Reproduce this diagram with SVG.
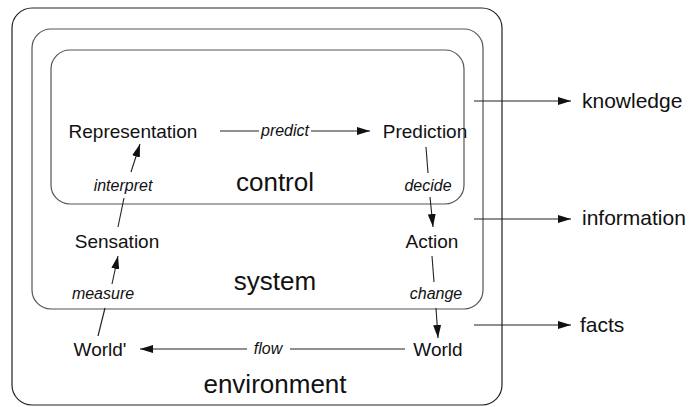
<svg xmlns="http://www.w3.org/2000/svg" width="694" height="407" viewBox="0 0 694 407">
<defs>
<marker id="ah" viewBox="0 0 13 8" refX="13" refY="4" markerWidth="13" markerHeight="8" markerUnits="userSpaceOnUse" orient="auto">
<path d="M0,0 L13,4 L0,8 Z" fill="#111"/>
</marker>
<style>
.box{fill:none;stroke:#555;stroke-width:1.2}
.outer{fill:none;stroke:#222;stroke-width:1.2}
.node{font-family:"Liberation Sans",Arial,sans-serif;font-size:19px;fill:#111;text-anchor:middle}
.lab{font-family:"Liberation Sans",Arial,sans-serif;font-size:16px;font-style:italic;fill:#111;text-anchor:middle}
.big{font-family:"Liberation Sans",Arial,sans-serif;font-size:26px;fill:#111;text-anchor:middle}
.side{font-family:"Liberation Sans",Arial,sans-serif;font-size:21px;fill:#111}
.ln{fill:none;stroke:#222;stroke-width:1.1}
</style>
</defs>
<g id="environment">
<rect class="outer" x="12" y="8" width="490" height="397" rx="20"/>
<text class="big" x="275" y="393">environment</text>
</g>
<g id="system">
<rect class="box" x="32" y="29" width="451" height="280" rx="19"/>
<text class="big" x="275" y="290">system</text>
</g>
<g id="control">
<rect class="box" x="51" y="50" width="413" height="154" rx="19"/>
<text class="big" x="275" y="191">control</text>
</g>
<g id="representation"><text class="node" x="133" y="138">Representation</text></g>
<g id="prediction"><text class="node" x="425" y="138">Prediction</text></g>
<g id="sensation"><text class="node" x="117" y="248">Sensation</text></g>
<g id="action"><text class="node" x="432" y="248">Action</text></g>
<g id="world-prime"><text class="node" x="100" y="356">World'</text></g>
<g id="world"><text class="node" x="438" y="356">World</text></g>
<g id="knowledge"><text class="side" x="582" y="108">knowledge</text></g>
<g id="information"><text class="side" x="582" y="225">information</text></g>
<g id="facts"><text class="side" x="580" y="332">facts</text></g>
<g id="connectors">
<line class="ln" x1="220" y1="131" x2="259" y2="131"/>
<line class="ln" x1="311" y1="131" x2="370" y2="131" marker-end="url(#ah)"/>
<text class="lab" x="285" y="136">predict</text>
<line class="ln" x1="118" y1="227" x2="124" y2="198"/>
<line class="ln" x1="131" y1="172" x2="140" y2="144" marker-end="url(#ah)"/>
<text class="lab" x="123" y="191">interpret</text>
<line class="ln" x1="426" y1="147" x2="428" y2="173"/>
<line class="ln" x1="430" y1="197" x2="433" y2="227" marker-end="url(#ah)"/>
<text class="lab" x="428" y="191">decide</text>
<line class="ln" x1="98" y1="336" x2="105" y2="308"/>
<line class="ln" x1="112" y1="284" x2="118" y2="256" marker-end="url(#ah)"/>
<text class="lab" x="103" y="299">measure</text>
<line class="ln" x1="432" y1="256" x2="434" y2="282"/>
<line class="ln" x1="436" y1="308" x2="438" y2="338" marker-end="url(#ah)"/>
<text class="lab" x="436" y="299">change</text>
<line class="ln" x1="405" y1="349" x2="290" y2="349"/>
<line class="ln" x1="247" y1="349" x2="140" y2="349" marker-end="url(#ah)"/>
<text class="lab" x="268" y="354">flow</text>
<line class="ln" x1="474" y1="101" x2="571" y2="101" marker-end="url(#ah)"/>
<line class="ln" x1="474" y1="219" x2="571" y2="219" marker-end="url(#ah)"/>
<line class="ln" x1="474" y1="325" x2="571" y2="325" marker-end="url(#ah)"/>
</g>
</svg>
